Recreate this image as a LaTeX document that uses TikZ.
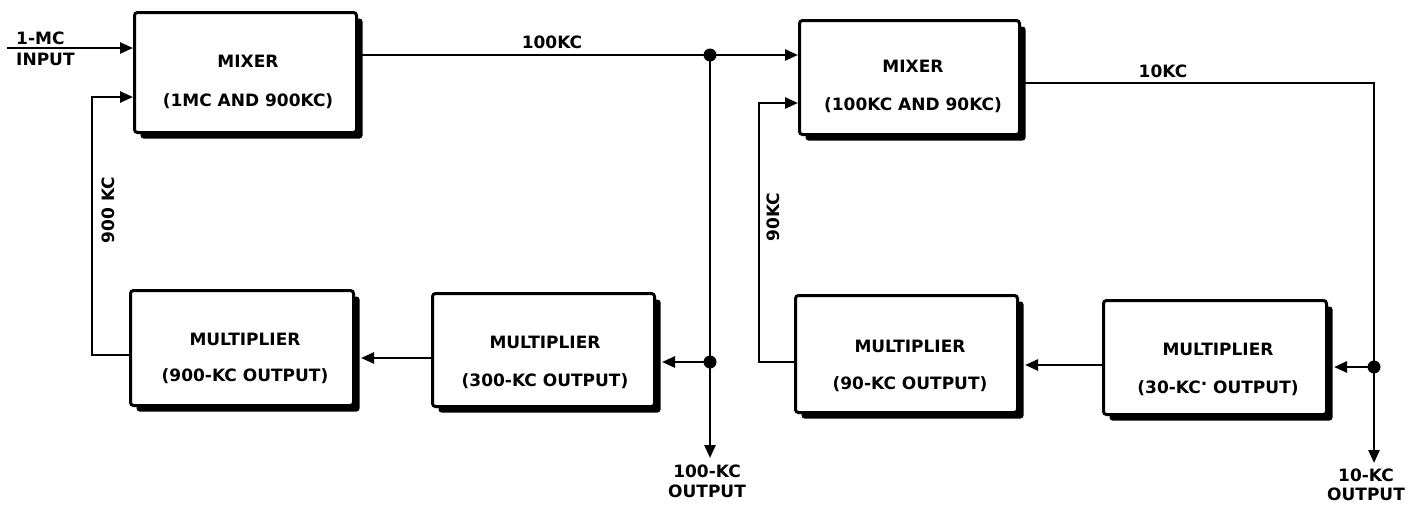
\documentclass[tikz,border=0pt]{standalone}
\usepackage{fontspec}
\setmainfont{DejaVu Sans}
\usetikzlibrary{arrows.meta,shadows}
\begin{document}
\begin{tikzpicture}[x=1pt,y=-1pt,
  blk/.style={draw, line width=3pt, fill=white, rounded corners=3pt, inner sep=0pt,
    drop shadow={shadow xshift=6pt, shadow yshift=-6pt, opacity=1, fill=black}},
  txt/.style={font=\bfseries\fontsize{17}{19}\selectfont, inner sep=0pt},
  wire/.style={line width=2.5pt},
  arr/.style={wire, -{Triangle[length=13pt,width=11pt]}},
  dot/.style={circle, fill=black, minimum size=13pt, inner sep=0pt}]
\useasboundingbox (0,0) rectangle (1426,504);

% boxes
\node[blk, minimum width=222pt, minimum height=120pt] (mixA) at (245.5,72.5) {};
\node[blk, minimum width=220pt, minimum height=114pt] (mixB) at (909.5,77.5) {};
\node[blk, minimum width=223pt, minimum height=115pt] (mul900) at (242,348) {};
\node[blk, minimum width=222pt, minimum height=113pt] (mul300) at (543.5,350) {};
\node[blk, minimum width=222pt, minimum height=117pt] (mul90) at (906.5,354) {};
\node[blk, minimum width=223pt, minimum height=114pt] (mul30) at (1215,357.5) {};

% box texts
\node[txt] (mixAt1) at (248,61) {MIXER};
\node[txt] (mixAt2) at (248,101) {(1MC AND 900KC)};
\node[txt] (mixBt1) at (913,66) {MIXER};
\node[txt] (mixBt2) at (913,105) {(100KC AND 90KC)};
\node[txt] (mul900t1) at (245,339) {MULTIPLIER};
\node[txt] (mul900t2) at (245,376) {(900-KC OUTPUT)};
\node[txt] (mul300t1) at (545,342) {MULTIPLIER};
\node[txt] (mul300t2) at (545,381) {(300-KC OUTPUT)};
\node[txt] (mul90t1) at (910,346) {MULTIPLIER};
\node[txt] (mul90t2) at (910,384) {(90-KC OUTPUT)};
\node[txt] (mul30t1) at (1218,349) {MULTIPLIER};
\node[txt] (mul30t2) at (1218,388) {(30-KC\raisebox{8pt}{.} OUTPUT)};

% shadow-edge coordinates
\coordinate (m900r) at ([xshift=6pt]mul900.east);
\coordinate (m300r) at ([xshift=6pt]mul300.east);
\coordinate (m90r) at ([xshift=6pt]mul90.east);
\coordinate (m30r) at ([xshift=6pt]mul30.east);

% input
\coordinate (in) at (7,48);
\draw[arr] (in) -- (in -| mixA.west);
\node[txt, anchor=west] (inl1) at (16,38) {1-MC};
\node[txt, anchor=west] (inl2) at (16,59) {INPUT};

% first loop
\coordinate (j1) at (710,55);
\coordinate (j1b) at (710,362);
\coordinate (o1) at (710,458);
\draw[wire] (j1 -| mixA.east) -- (j1);
\draw[arr] (j1) -- (j1 -| mixB.west);
\draw[wire] (j1) -- (j1b);
\draw[arr] (j1b) -- (o1);
\draw[arr] (j1b) -- (j1b -| m300r);
\node[dot] (d1) at (j1) {};
\node[dot] (d2) at (j1b) {};
\coordinate (r1) at (0,358);
\draw[arr] (mul300.west |- r1) -- (m900r |- r1);
\coordinate (f1) at (92,355);
\coordinate (f1top) at (92,97);
\draw[arr] (mul900.west |- f1) -- (f1) -- (f1top) -- (f1top -| mixA.west);

% second loop
\coordinate (j2top) at (1374,83);
\coordinate (j2) at (1374,367);
\coordinate (o2) at (1374,463);
\draw[wire] (j2top -| mixB.east) -- (j2top) -- (j2);
\draw[arr] (j2) -- (o2);
\draw[arr] (j2) -- (j2 -| m30r);
\node[dot] (d3) at (j2) {};
\coordinate (r2) at (0,365);
\draw[arr] (mul30.west |- r2) -- (m90r |- r2);
\coordinate (f2) at (759,362);
\coordinate (f2top) at (759,103);
\draw[arr] (mul90.west |- f2) -- (f2) -- (f2top) -- (f2top -| mixB.west);

% labels
\node[txt] (l100) at (552,42) {100KC};
\node[txt] (l10) at (1163,71) {10KC};
\node[txt, rotate=90] (l900) at (108,210) {900 KC};
\node[txt, rotate=90] (l90) at (773,217) {90KC};
\node[txt] (o1a) at (707,471) {100-KC};
\node[txt] (o1b) at (707,491) {OUTPUT};
\node[txt] (o2a) at (1366,475) {10-KC};
\node[txt] (o2b) at (1366,494) {OUTPUT};
\end{tikzpicture}
\end{document}
